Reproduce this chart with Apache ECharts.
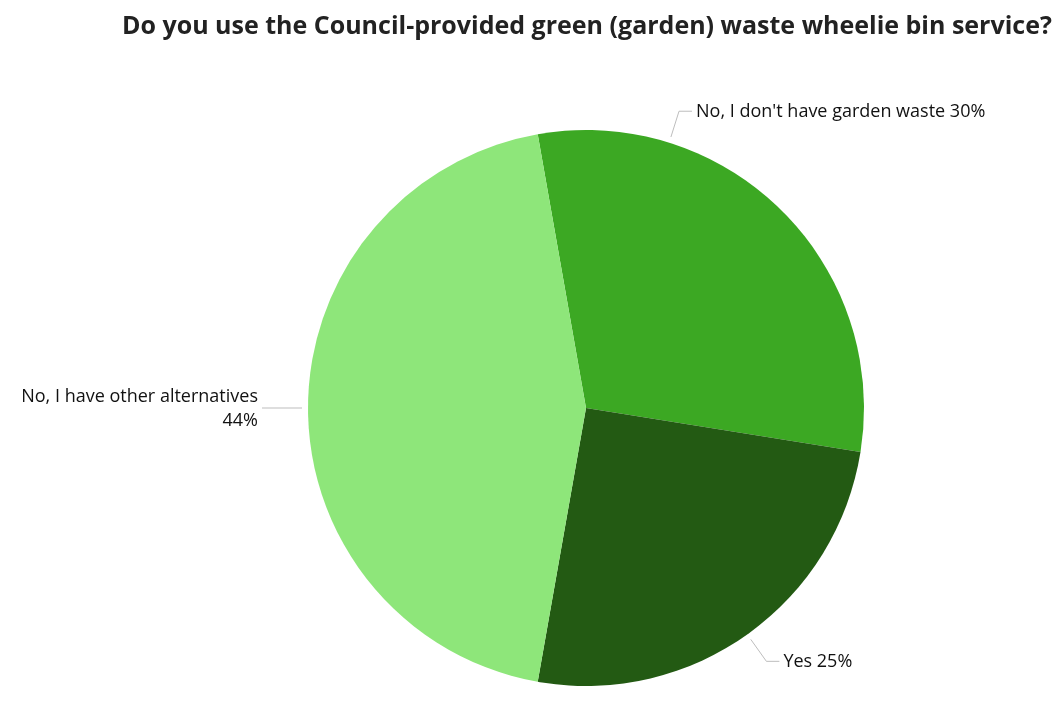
<!DOCTYPE html>
<html>
<head>
<meta charset="utf-8">
<script src="https://cdn.jsdelivr.net/npm/echarts@6/dist/echarts.min.js"></script>
<style>
html,body{margin:0;padding:0;background:#fff;}
#chart{width:1057px;height:706px;}
</style>
</head>
<body>
<div id="chart"></div>
<script>
const titleText = "Do you use the Council-provided green (garden) waste wheelie bin service?";
const categories = ["No, I don't have garden waste", "Yes", "No, I have other alternatives"];
const values = [30, 25, 44];
const colors = ["#3ca823", "#235a13", "#8ee67a"];

const CX = 586, CY = 408, R = 278, START = 100;
const topLabelAngle = 17.4; // label of first slice sits near the top, as in the reference

// mid angles (degrees clockwise from 12 o'clock) derived from the data
const total = values.reduce((a, b) => a + b, 0);
let acc = 90 - START;
const labelAngles = values.map(v => { const m = acc + v / total * 180; acc += v / total * 360; return m; });
labelAngles[0] = topLabelAngle;

const chart = echarts.init(document.getElementById('chart'), null, {renderer: 'canvas'});
const FONT = "'Open Sans', 'Noto Sans', sans-serif";
chart.setOption({
  animation: false,
  title: {
    text: titleText,
    left: 117,
    top: 9,
    textStyle: {fontFamily: FONT, fontSize: 25, fontWeight: 'bold', color: '#222'}
  },
  series: [{
    type: 'pie',
    center: [CX, CY],
    radius: R,
    startAngle: START,
    clockwise: true,
    data: categories.map((c, i) => ({name: c, value: values[i], itemStyle: {color: colors[i]}})),
    label: {
      show: true,
      position: 'outside',
      fontFamily: FONT,
      fontSize: 18,
      color: '#111',
      lineHeight: 24,
      width: 330,
      overflow: 'none',
      formatter: p => p.dataIndex === 2 ? p.name + '\n' + p.value + '%' : p.name + ' ' + p.value + '%'
    },
    labelLine: {
      show: true,
      length: 28,
      length2: 14,
      lineStyle: {color: '#bdbdbd', width: 1}
    },
    labelLayout: function (params) {
      const a = labelAngles[params.dataIndex] * Math.PI / 180;
      const dx = Math.sin(a), dy = -Math.cos(a);
      const right = dx >= 0;
      const p0 = [CX + (R + 6) * dx, CY + (R + 6) * dy];
      const p1 = [CX + (R + 33) * dx, CY + (R + 33) * dy];
      const p2 = [p1[0] + (right ? 13 : -13), p1[1]];
      return {
        x: p2[0] + (right ? 4 : -4),
        y: p2[1] + 1,
        align: right ? 'left' : 'right',
        verticalAlign: 'middle',
        labelLinePoints: [p0, p1, p2]
      };
    },
    emphasis: {disabled: true}
  }]
});
</script>
</body>
</html>
